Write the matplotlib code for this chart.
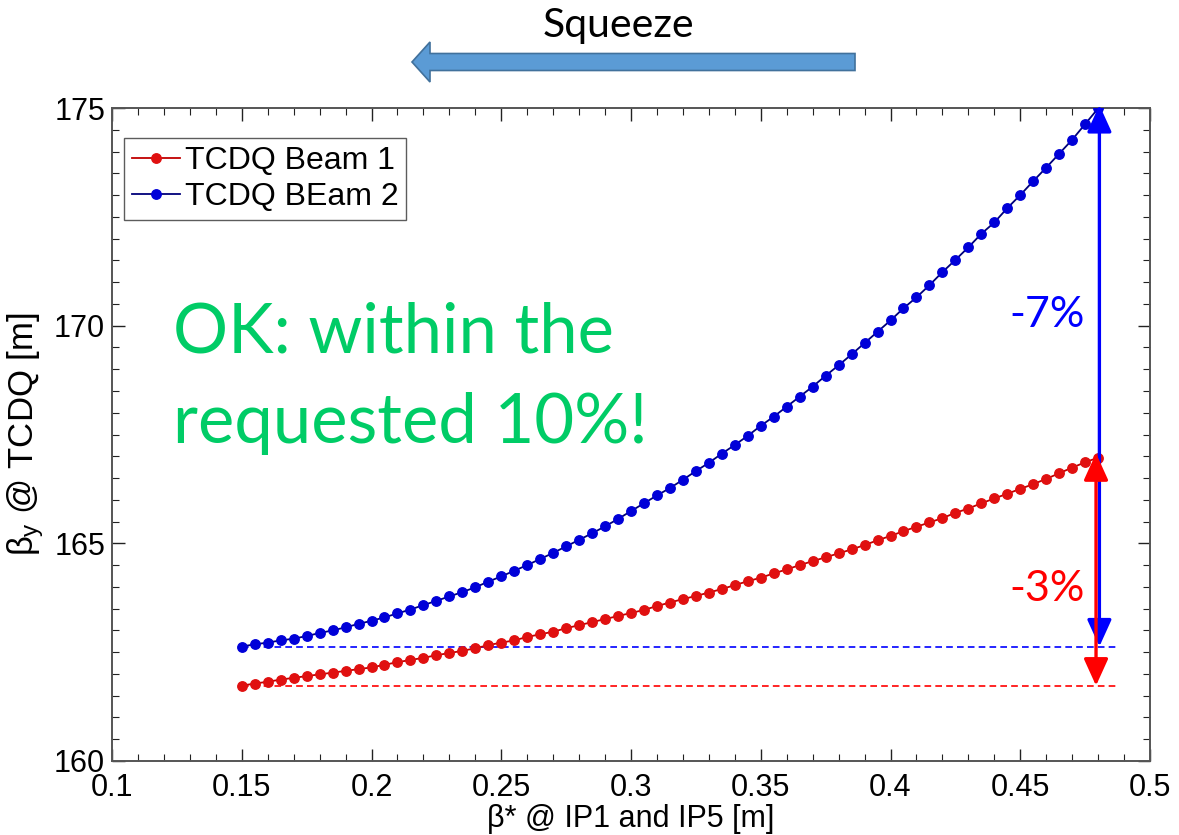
import matplotlib
matplotlib.use("Agg")
import matplotlib.pyplot as plt
import matplotlib.font_manager as fm
from matplotlib.patches import FancyArrow
from matplotlib.ticker import MultipleLocator

# ---------------- data ----------------
beta_star = [round(0.15 + 0.005 * i, 3) for i in range(67)]  # 0.15 ... 0.48 m

beam1 = [161.73, 161.78, 161.82, 161.87, 161.91, 161.95, 161.99, 162.03, 162.07, 162.11,
         162.15, 162.21, 162.27, 162.32, 162.37, 162.43, 162.48, 162.53, 162.59, 162.66,
         162.72, 162.77, 162.85, 162.91, 162.97, 163.05, 163.12, 163.19, 163.26, 163.33,
         163.40, 163.47, 163.56, 163.64, 163.72, 163.79, 163.87, 163.95, 164.04, 164.13,
         164.21, 164.31, 164.40, 164.50, 164.59, 164.68, 164.77, 164.86, 164.96, 165.07,
         165.17, 165.28, 165.38, 165.48, 165.58, 165.70, 165.80, 165.92, 166.03, 166.14,
         166.25, 166.36, 166.48, 166.61, 166.74, 166.86, 166.97]

beam2 = [162.63, 162.68, 162.72, 162.77, 162.81, 162.87, 162.94, 163.00, 163.07, 163.15,
         163.22, 163.30, 163.39, 163.48, 163.58, 163.68, 163.78, 163.88, 163.99, 164.12,
         164.24, 164.37, 164.50, 164.64, 164.78, 164.93, 165.08, 165.23, 165.39, 165.56,
         165.74, 165.92, 166.10, 166.27, 166.46, 166.66, 166.85, 167.06, 167.26, 167.47,
         167.70, 167.91, 168.14, 168.37, 168.60, 168.85, 169.09, 169.34, 169.60, 169.86,
         170.12, 170.40, 170.65, 170.93, 171.23, 171.51, 171.80, 172.11, 172.37, 172.70,
         173.00, 173.32, 173.63, 173.95, 174.27, 174.63, 174.99]

series_labels = ["TCDQ Beam 1", "TCDQ BEam 2"]
change_labels = ["-3%", "-7%"]
note_text = "OK: within the\nrequested 10%!"
squeeze_text = "Squeeze"
xlabel = "\u03b2* @ IP1 and IP5 [m]"
ylabel = r"$\beta_\mathrm{y}$ @ TCDQ [m]"

# ---------------- fonts ----------------
names = {f.name for f in fm.fontManager.ttflist}
tick_font = "Liberation Sans"
callout_font = "Lato" if "Lato" in names else "DejaVu Sans"

plt.rcParams["font.family"] = [tick_font, "DejaVu Sans"]
plt.rcParams["mathtext.fontset"] = "custom"
plt.rcParams["mathtext.rm"] = tick_font
plt.rcParams["mathtext.it"] = tick_font
plt.rcParams["mathtext.bf"] = tick_font

fig = plt.figure(figsize=(11.79, 8.35), dpi=100)
ax = fig.add_axes([112 / 1179, 1 - 761 / 835, (1150 - 112) / 1179, (761 - 108) / 835])

red_line, red_mk = "#C00000", "#E01010"
blue_line, blue_mk = "#00007A", "#0000D8"

ax.plot(beta_star, beam1, "-", color=red_line, lw=1.3, marker="o", ms=6.8,
        mfc=red_mk, mec=red_mk, label=series_labels[0], zorder=3)
ax.plot(beta_star, beam2, "-", color=blue_line, lw=1.3, marker="o", ms=6.8,
        mfc=blue_mk, mec=blue_mk, label=series_labels[1], zorder=3)

# reference dashed lines
x_dash_end = 0.487
ax.plot([beta_star[0], x_dash_end], [beam2[0], beam2[0]], color="#0000FF", lw=1.2,
        dashes=(4, 2.5), zorder=2)
ax.plot([beta_star[0], x_dash_end], [beam1[0], beam1[0]], color="#FF0000", lw=1.2,
        dashes=(4, 2.5), zorder=2)

# double-headed variation arrows
xe = beta_star[-1]
astyle = "<|-|>,head_length=0.75,head_width=0.34"
ax.annotate("", xy=(xe + 0.0005, beam2[-1] + 0.08), xytext=(xe + 0.0005, beam2[0]),
            arrowprops=dict(arrowstyle=astyle, color="#0000FF", lw=2.4, shrinkA=0,
                            shrinkB=0, mutation_scale=22),
            annotation_clip=False, zorder=4)
ax.annotate("", xy=(xe - 0.0008, beam1[-1] + 0.1), xytext=(xe - 0.0008, beam1[0]),
            arrowprops=dict(arrowstyle=astyle, color="#FF0000", lw=2.4, shrinkA=0,
                            shrinkB=0, mutation_scale=22),
            annotation_clip=False, zorder=5)

# axes styling
ax.set_xlim(0.1, 0.5)
ax.set_ylim(160, 175)
ax.xaxis.set_minor_locator(MultipleLocator(0.01))
ax.yaxis.set_major_locator(MultipleLocator(5))
ax.yaxis.set_minor_locator(MultipleLocator(0.5))
ax.set_xticks([0.1, 0.15, 0.2, 0.25, 0.3, 0.35, 0.4, 0.45, 0.5])
ax.set_xticklabels(["0.1", "0.15", "0.2", "0.25", "0.3", "0.35", "0.4", "0.45", "0.5"])
ax.tick_params(which="both", direction="in", top=True, right=True, colors="#222222",
               labelcolor="black")
ax.tick_params(which="major", length=9, width=1.0, labelsize=22)
ax.tick_params(axis="x", which="major", pad=9)
ax.tick_params(axis="y", which="major", pad=5)
ax.tick_params(which="minor", length=5, width=0.8)
for s in ax.spines.values():
    s.set_color("#555555")
    s.set_linewidth(1.4)

ax.set_xlabel(xlabel, fontsize=22, labelpad=0)
ax.set_ylabel(ylabel, fontsize=25, labelpad=6)

leg = ax.legend(loc="upper left", bbox_to_anchor=(0.0116, 0.954), borderaxespad=0,
                fontsize=23, frameon=True, fancybox=False, edgecolor="#333333",
                borderpad=0.25, handlelength=1.5, handletextpad=0.15,
                labelspacing=0.2)
leg.get_frame().set_linewidth(1.0)

# callout texts
ax.text(0.0588, 0.7044, note_text, transform=ax.transAxes, color="#00CC66",
        fontsize=49.5, family=callout_font, va="top", ha="left", linespacing=1.54)
ax.text(0.475, 169.97, change_labels[1], color="#0000FF", fontsize=31,
        family=callout_font, ha="right", va="baseline")
ax.text(0.475, 163.68, change_labels[0], color="#FF0000", fontsize=31,
        family=callout_font, ha="right", va="baseline")

# Squeeze arrow in figure pixel coordinates
ov = fig.add_axes([0, 0, 1, 1], zorder=10)
ov.set_xlim(0, 1179)
ov.set_ylim(835, 0)
ov.axis("off")
ov.patch.set_alpha(0)
ov.add_patch(FancyArrow(855, 62, -443, 0, width=17, head_width=40, head_length=18,
                        length_includes_head=True, facecolor="#5B9BD5",
                        edgecolor="#41719C", lw=1.2))
ov.text(618, 37, squeeze_text, fontsize=29.5, family=callout_font, ha="center",
        va="baseline", color="black")

fig.savefig("out.png", dpi=100)
